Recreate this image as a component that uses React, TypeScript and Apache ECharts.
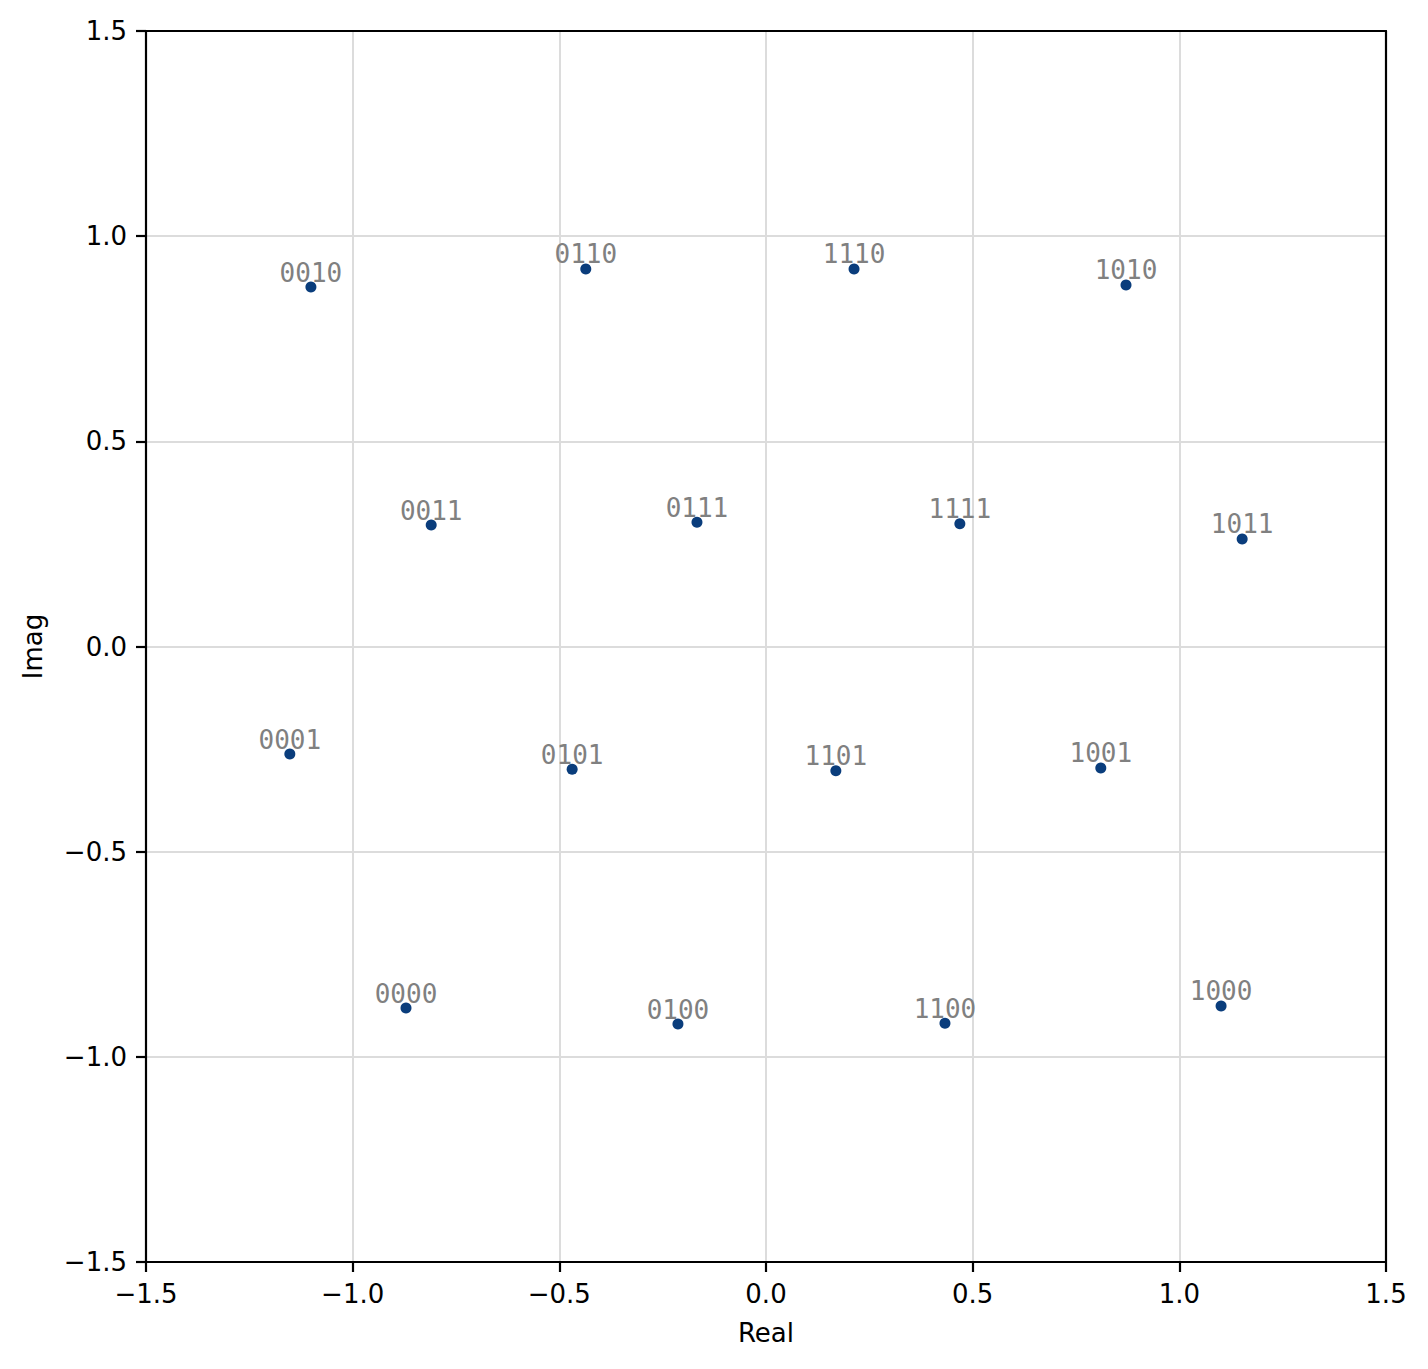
import React, { useEffect, useRef } from "react";
import * as echarts from "echarts";

const symbols = ["0010", "0110", "1110", "1010", "0011", "0111", "1111", "1011", "0001", "0101", "1101", "1001", "0000", "0100", "1100", "1000"];
const realValues = [-1.101, -0.436, 0.213, 0.871, -0.81, -0.167, 0.469, 1.152, -1.152, -0.469, 0.169, 0.81, -0.871, -0.213, 0.433, 1.101];
const imagValues = [0.876, 0.92, 0.92, 0.881, 0.296, 0.303, 0.299, 0.262, -0.262, -0.299, -0.303, -0.296, -0.881, -0.92, -0.918, -0.876];
const tickMin = -1.5;
const tickMax = 1.5;
const tickStep = 0.5;

const fmt = (v: number) => {
  const s = v.toFixed(1);
  return s.startsWith("-") ? "\u2212" + s.slice(1) : s;
};

export default function App() {
  const ref = useRef<HTMLDivElement>(null);
  useEffect(() => {
    if (!ref.current) return;
    const chart = echarts.init(ref.current, null, { renderer: "svg" });
    const data = symbols.map((s, i) => ({ value: [realValues[i], imagValues[i]], name: s }));
    const axisCommon = {
      type: "value" as const,
      min: tickMin,
      max: tickMax,
      interval: tickStep,
      nameLocation: "middle" as const,
      nameTextStyle: { fontFamily: "DejaVu Sans", fontSize: 26, color: "#000" },
      axisLine: { show: true, onZero: false, lineStyle: { color: "#000", width: 2.2 } },
      axisTick: { show: true, length: 10, lineStyle: { color: "#000", width: 2.2 } },
      axisLabel: { fontFamily: "DejaVu Sans", fontSize: 26, color: "#000", margin: 19, formatter: fmt },
      splitLine: { show: true, lineStyle: { color: "#dcdcdc", width: 2 } },
      z: 1,
    };
    const frameAxis = {
      type: "value" as const,
      min: tickMin,
      max: tickMax,
      interval: tickStep,
      axisLine: { show: true, onZero: false, lineStyle: { color: "#000", width: 2.2 } },
      axisTick: { show: false },
      axisLabel: { show: false },
      splitLine: { show: false },
      z: 1,
    };
    chart.setOption({
      animation: false,
      backgroundColor: "#fff",
      grid: { left: 146, right: 42, top: 31, bottom: 107 },
      xAxis: [
        { ...axisCommon, name: "Real", nameGap: 58 },
        { ...frameAxis, position: "top" },
      ],
      yAxis: [
        { ...axisCommon, name: "Imag", nameGap: 100 },
        { ...frameAxis, position: "right" },
      ],
      series: [
        {
          type: "scatter",
          data,
          symbol: "circle",
          symbolSize: 11,
          itemStyle: { color: "#0a3d7c", opacity: 1 },
          label: {
            show: true,
            position: "top",
            distance: -4,
            formatter: (p: any) => p.name,
            fontFamily: "DejaVu Sans Mono",
            fontSize: 26,
            color: "#808080",
          },
          z: 10,
        },
      ],
    });
    return () => chart.dispose();
  }, []);
  return <div ref={ref} style={{ position: "absolute", left: 0, top: 0, width: 1428, height: 1369 }} />;
}
